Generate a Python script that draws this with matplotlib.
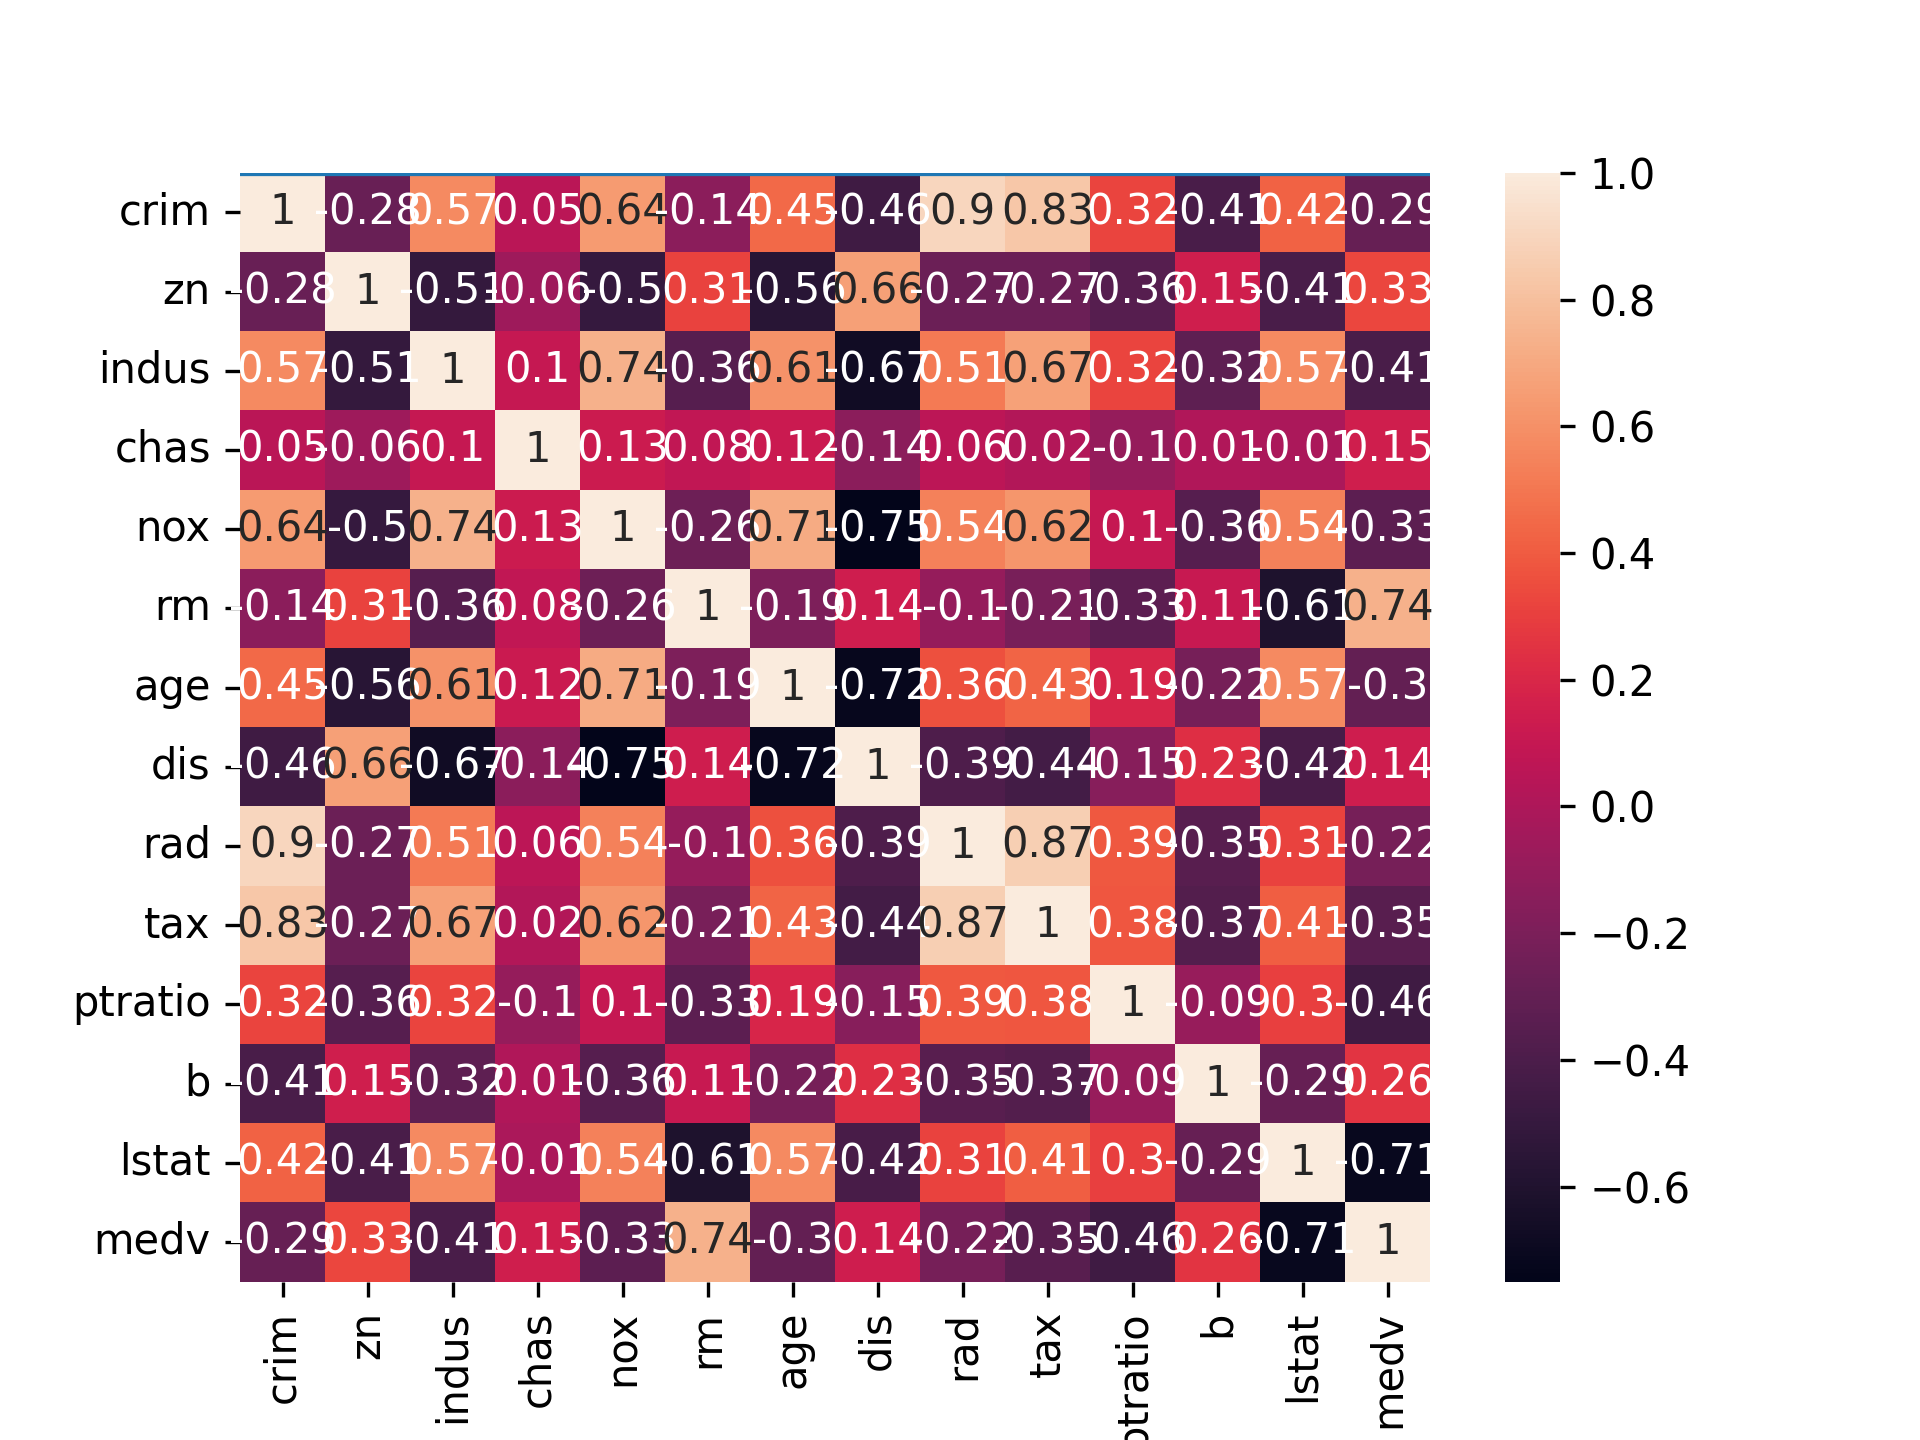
import numpy as np
import pandas as pd
import matplotlib
matplotlib.use('Agg')
import matplotlib.pyplot as plt
import seaborn as sns

cols = ['crim', 'zn', 'indus', 'chas', 'nox', 'rm', 'age', 'dis', 'rad', 'tax',
        'ptratio', 'b', 'lstat', 'medv']

crim    = [1, -0.28, 0.57, 0.05, 0.64, -0.14, 0.45, -0.46, 0.9, 0.83, 0.32, -0.41, 0.42, -0.29]
zn      = [-0.28, 1, -0.51, -0.06, -0.5, 0.31, -0.56, 0.66, -0.27, -0.27, -0.36, 0.15, -0.41, 0.33]
indus   = [0.57, -0.51, 1, 0.1, 0.74, -0.36, 0.61, -0.67, 0.51, 0.67, 0.32, -0.32, 0.57, -0.41]
chas    = [0.05, -0.06, 0.1, 1, 0.13, 0.08, 0.12, -0.14, 0.06, 0.02, -0.1, 0.01, -0.01, 0.15]
nox     = [0.64, -0.5, 0.74, 0.13, 1, -0.26, 0.71, -0.75, 0.54, 0.62, 0.1, -0.36, 0.54, -0.33]
rm      = [-0.14, 0.31, -0.36, 0.08, -0.26, 1, -0.19, 0.14, -0.1, -0.21, -0.33, 0.11, -0.61, 0.74]
age     = [0.45, -0.56, 0.61, 0.12, 0.71, -0.19, 1, -0.72, 0.36, 0.43, 0.19, -0.22, 0.57, -0.3]
dis     = [-0.46, 0.66, -0.67, -0.14, -0.75, 0.14, -0.72, 1, -0.39, -0.44, -0.15, 0.23, -0.42, 0.14]
rad     = [0.9, -0.27, 0.51, 0.06, 0.54, -0.1, 0.36, -0.39, 1, 0.87, 0.39, -0.35, 0.31, -0.22]
tax     = [0.83, -0.27, 0.67, 0.02, 0.62, -0.21, 0.43, -0.44, 0.87, 1, 0.38, -0.37, 0.41, -0.35]
ptratio = [0.32, -0.36, 0.32, -0.1, 0.1, -0.33, 0.19, -0.15, 0.39, 0.38, 1, -0.09, 0.3, -0.46]
b       = [-0.41, 0.15, -0.32, 0.01, -0.36, 0.11, -0.22, 0.23, -0.35, -0.37, -0.09, 1, -0.29, 0.26]
lstat   = [0.42, -0.41, 0.57, -0.01, 0.54, -0.61, 0.57, -0.42, 0.31, 0.41, 0.3, -0.29, 1, -0.71]
medv    = [-0.29, 0.33, -0.41, 0.15, -0.33, 0.74, -0.3, 0.14, -0.22, -0.35, -0.46, 0.26, -0.71, 1]

corr = pd.DataFrame([crim, zn, indus, chas, nox, rm, age, dis, rad, tax,
                     ptratio, b, lstat, medv], index=cols, columns=cols)

fig = plt.figure(figsize=(6.4, 4.8), dpi=300)
ax = sns.heatmap(corr, annot=True)
ax.axhline(0)

plt.savefig('out.png')
